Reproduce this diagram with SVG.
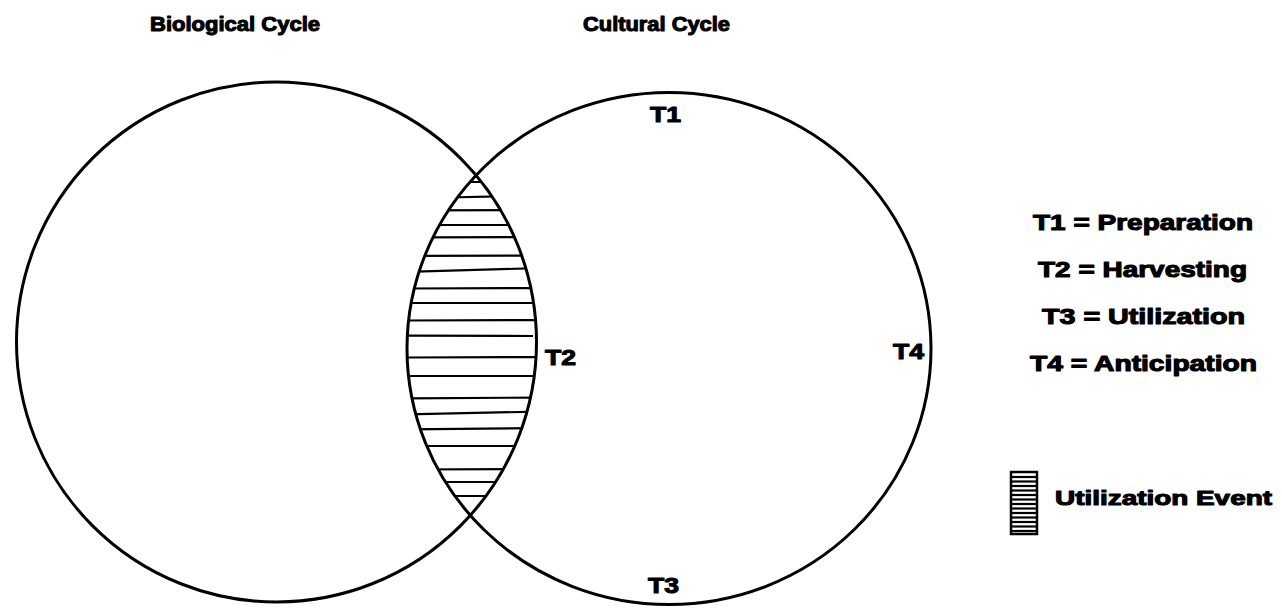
<svg xmlns="http://www.w3.org/2000/svg" width="1282" height="608" viewBox="0 0 1282 608">
<style>
.t{font-family:"Liberation Sans",Arial,Helvetica,sans-serif;font-weight:bold;fill:#000;stroke:#000;stroke-width:1.1;stroke-linejoin:round}
.c{fill:none;stroke:#000;stroke-width:3}
.h{stroke:#000;stroke-width:2.2}
</style>
<defs>
<clipPath id="clipL"><circle cx="276.5" cy="342" r="260"/></clipPath>
<clipPath id="clipR"><ellipse cx="669" cy="348.5" rx="262" ry="256"/></clipPath>
</defs>
<rect width="1282" height="608" fill="#fff"/>
<g id="titles">
<text class="t" x="150" y="31" font-size="21" textLength="170" lengthAdjust="spacingAndGlyphs">Biological Cycle</text>
<text class="t" x="583" y="31" font-size="21" textLength="147" lengthAdjust="spacingAndGlyphs">Cultural Cycle</text>
</g>
<g id="lens-hatch">
<g clip-path="url(#clipL)"><g clip-path="url(#clipR)">
<line class="h" x1="400" y1="182" x2="545" y2="182"/>
<line class="h" x1="400" y1="198.5" x2="545" y2="195.5"/>
<line class="h" x1="400" y1="210.5" x2="545" y2="210"/>
<line class="h" x1="400" y1="225" x2="545" y2="225"/>
<line class="h" x1="400" y1="237.5" x2="545" y2="237"/>
<line class="h" x1="400" y1="256" x2="545" y2="255.5"/>
<line class="h" x1="400" y1="272" x2="545" y2="268"/>
<line class="h" x1="400" y1="288.5" x2="545" y2="288"/>
<line class="h" x1="400" y1="303" x2="545" y2="303"/>
<line class="h" x1="400" y1="320.5" x2="545" y2="320"/>
<line class="h" x1="400" y1="335.5" x2="533" y2="336"/>
<line class="h" x1="400" y1="357.5" x2="545" y2="357"/>
<line class="h" x1="400" y1="376" x2="545" y2="376"/>
<line class="h" x1="400" y1="398.5" x2="545" y2="397.5"/>
<line class="h" x1="400" y1="414.5" x2="545" y2="411.5"/>
<line class="h" x1="400" y1="429.5" x2="545" y2="428"/>
<line class="h" x1="400" y1="446" x2="545" y2="446"/>
<line class="h" x1="400" y1="469.5" x2="545" y2="469"/>
<line class="h" x1="400" y1="482" x2="545" y2="482"/>
<line class="h" x1="400" y1="496" x2="545" y2="496"/>
</g></g>
</g>
<g id="biological-cycle">
<circle class="c" cx="276.5" cy="342" r="260"/>
</g>
<g id="cultural-cycle">
<ellipse class="c" cx="669" cy="348.5" rx="262" ry="256"/>
<text class="t" x="650" y="122" font-size="22" textLength="31" lengthAdjust="spacingAndGlyphs">T1</text>
<text class="t" x="545" y="365" font-size="22" textLength="31" lengthAdjust="spacingAndGlyphs">T2</text>
<text class="t" x="648" y="593" font-size="22" textLength="31" lengthAdjust="spacingAndGlyphs">T3</text>
<text class="t" x="893" y="359" font-size="22" textLength="31" lengthAdjust="spacingAndGlyphs">T4</text>
</g>
<g id="legend">
<text class="t" x="1033" y="230" font-size="22" textLength="220" lengthAdjust="spacingAndGlyphs">T1 = Preparation</text>
<text class="t" x="1038" y="277" font-size="22" textLength="209" lengthAdjust="spacingAndGlyphs">T2 = Harvesting</text>
<text class="t" x="1042" y="324" font-size="22" textLength="203" lengthAdjust="spacingAndGlyphs">T3 = Utilization</text>
<text class="t" x="1030" y="371" font-size="22" textLength="227" lengthAdjust="spacingAndGlyphs">T4 = Anticipation</text>
</g>
<g id="legend-key">
<rect x="1011" y="472" width="26" height="62" fill="#fff" stroke="#000" stroke-width="2.5"/>
<g class="h" stroke-width="1.3">
<line x1="1012" y1="477" x2="1036" y2="477"/>
<line x1="1012" y1="481.5" x2="1036" y2="481.5"/>
<line x1="1012" y1="486" x2="1036" y2="486"/>
<line x1="1012" y1="490.5" x2="1036" y2="490.5"/>
<line x1="1012" y1="495" x2="1036" y2="495"/>
<line x1="1012" y1="499.5" x2="1036" y2="499.5"/>
<line x1="1012" y1="504" x2="1036" y2="504"/>
<line x1="1012" y1="508.5" x2="1036" y2="508.5"/>
<line x1="1012" y1="513" x2="1036" y2="513"/>
<line x1="1012" y1="517.5" x2="1036" y2="517.5"/>
<line x1="1012" y1="522" x2="1036" y2="522"/>
<line x1="1012" y1="526.5" x2="1036" y2="526.5"/>
<line x1="1012" y1="531" x2="1036" y2="531"/>
</g>
<text class="t" x="1055" y="505" font-size="21" textLength="217" lengthAdjust="spacingAndGlyphs">Utilization Event</text>
</g>
</svg>
